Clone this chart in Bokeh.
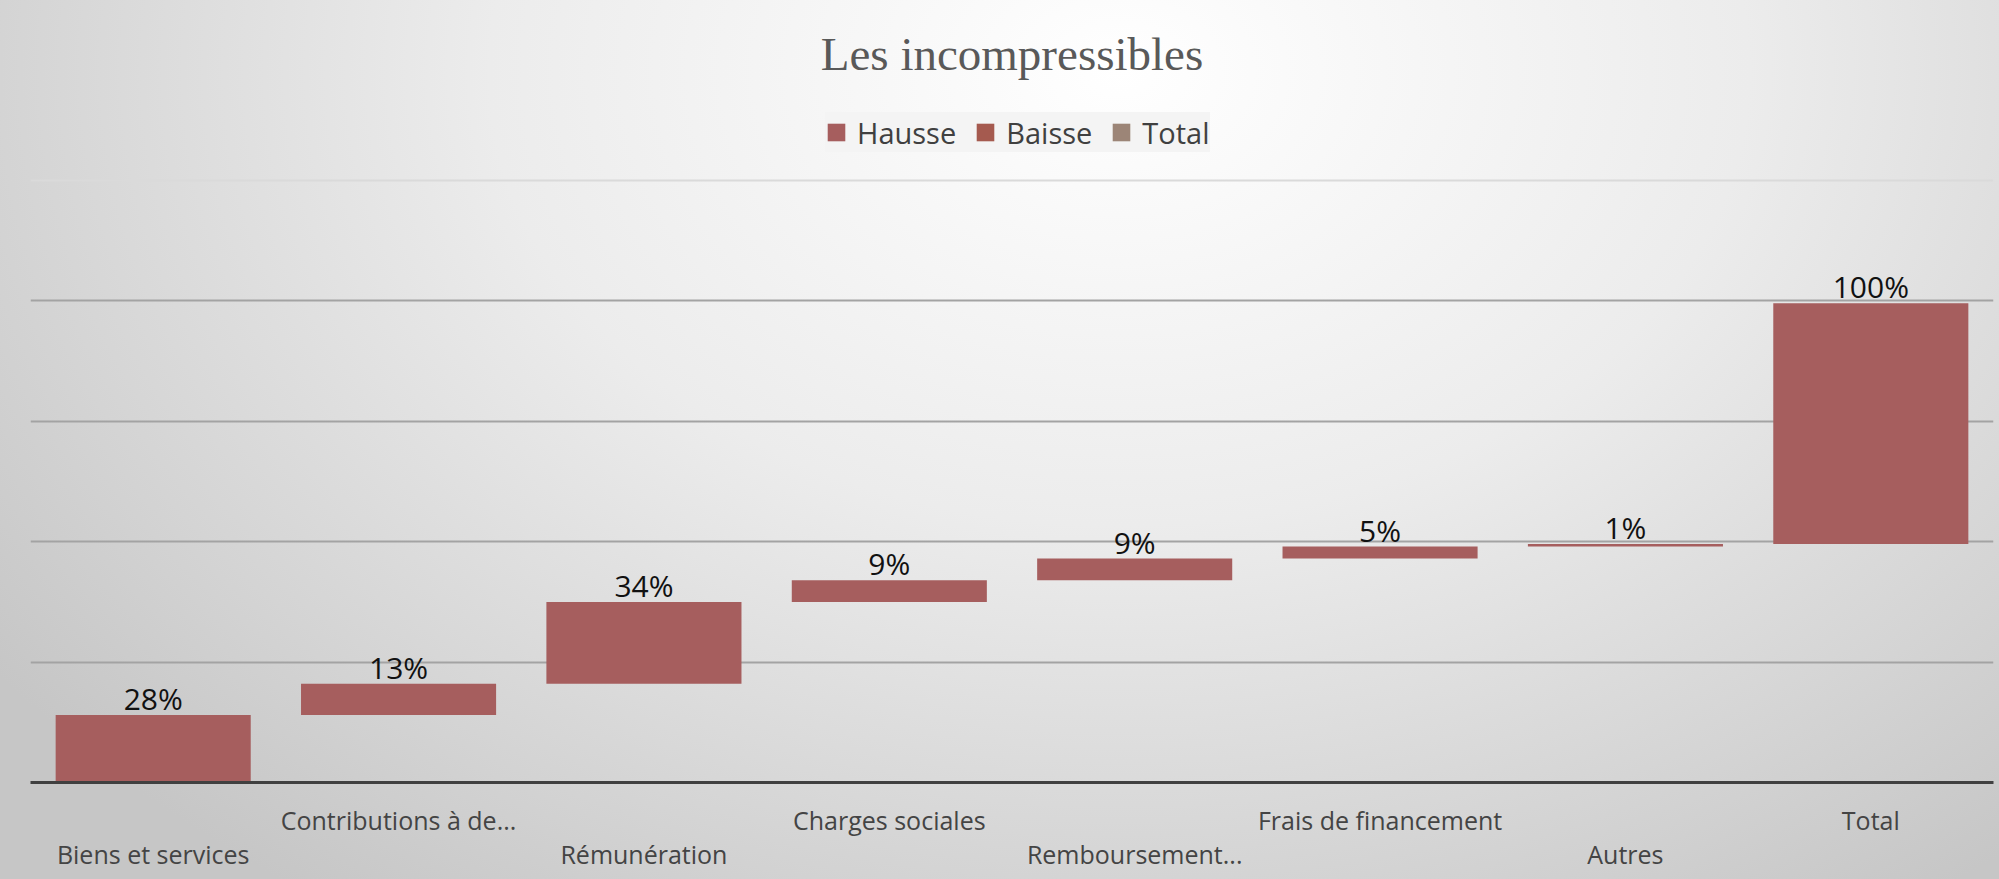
import numpy as np
from bokeh.plotting import figure
from bokeh.models import (ColumnDataSource, Range1d, FixedTicker, Grid,
                          Legend, LegendItem, Label)
from bokeh.core.properties import value
from bokeh.embed import file_html
from bokeh.resources import INLINE

# ---------------- data ----------------
title_text = "Les incompressibles"
categories = ["Biens et services", "Contributions à de...", "Rémunération", "Charges sociales",
              "Remboursement...", "Frais de financement", "Autres", "Total"]
hausse = [28, 13, 34, 9, 9, 5, 1, 100]          # all points are increases (Total not set as total)
baisse = [np.nan] * 8                            # no decreases
total = [np.nan] * 8                             # no total points
series_names = ["Hausse", "Baisse", "Total"]
series_colors = ["#a65e5e", "#a55a4f", "#9c8577"]
grid_ticks = [50, 100, 150, 200]
top_tick = [250]

label_texts = [f"{v}%" for v in hausse]
bottoms = np.concatenate([[0], np.cumsum(hausse[:-1])])
tops = bottoms + np.array(hausse)

# staggered axis labels (even categories on the second row)
factors = [("\n" + c) if i % 2 == 0 else c for i, c in enumerate(categories)]

src = ColumnDataSource(dict(cat=factors, bottom=bottoms, top=tops, label=label_texts))
src_b = ColumnDataSource(dict(cat=factors, bottom=bottoms, top=np.array(baisse)))
src_t = ColumnDataSource(dict(cat=factors, bottom=bottoms, top=np.array(total)))

# ---------------- layout ----------------
W, H = 1999, 879
frame_bottom_px = 782
px_per_unit = 602 / 250.0
y_top = frame_bottom_px / px_per_unit

p = figure(x_range=factors, y_range=Range1d(0, y_top), width=W, height=H,
           output_backend="svg", toolbar_location=None, y_axis_location=None,
           min_border_left=30, min_border_right=6, min_border_top=0,
           min_border_bottom=H - frame_bottom_px)
p.title.visible = False
p.outline_line_color = None
p.background_fill_alpha = 0
p.border_fill_alpha = 0
p.styles = {"background": "radial-gradient(ellipse 70% 115% at 56% 8%, #ffffff 0%, #ececec 45%, #d4d4d4 80%, #c6c6c6 100%)"}
p.xgrid.visible = False

for g in p.ygrid:
    g.ticker = FixedTicker(ticks=grid_ticks)
    g.grid_line_color = "#a3a3a3"
    g.grid_line_width = 2
if len(p.ygrid) == 0:
    p.add_layout(Grid(dimension=1, ticker=FixedTicker(ticks=grid_ticks),
                      grid_line_color="#a3a3a3", grid_line_width=2))
p.add_layout(Grid(dimension=1, ticker=FixedTicker(ticks=top_tick),
                  grid_line_color="#dadada", grid_line_width=2))

# bars
r_h = p.vbar(x="cat", bottom="bottom", top="top", width=0.795, source=src,
             fill_color=series_colors[0], line_color=None)
r_b = p.vbar(x="cat", bottom="bottom", top="top", width=0.795, source=src_b,
             fill_color=series_colors[1], line_color=None)
r_t = p.vbar(x="cat", bottom="bottom", top="top", width=0.795, source=src_t,
             fill_color=series_colors[2], line_color=None)

# data labels
p.text(x="cat", y="top", text="label", source=src, text_align="center", text_baseline="bottom",
       y_offset=4, text_font=value("Open Sans"), text_font_size="30px", text_color="#111111")

# x axis
ax = p.xaxis[0]
ax.axis_line_color = "#404040"
ax.axis_line_width = 3
ax.major_tick_line_color = None
ax.minor_tick_line_color = None
ax.major_tick_out = 0
ax.major_tick_in = 0
ax.major_label_standoff = 20
ax.major_label_text_font = "Open Sans"
ax.major_label_text_font_size = "25px"
ax.major_label_text_line_height = 1.0
ax.major_label_text_color = "#444444"

# title
title_y = (frame_bottom_px - 53.5) / px_per_unit
p.add_layout(Label(x=4, y=title_y, text=title_text, text_align="center", text_baseline="middle",
                   text_font="Liberation Serif", text_font_size="47px", text_color="#595959"))

# legend
legend = Legend(items=[LegendItem(label=series_names[0], renderers=[r_h]),
                       LegendItem(label=series_names[1], renderers=[r_b]),
                       LegendItem(label=series_names[2], renderers=[r_t])],
                orientation="horizontal", location=(795, 630),
                glyph_width=22, glyph_height=22, label_height=40, label_standoff=10,
                spacing=18, padding=16,
                label_text_font="Open Sans", label_text_font_size="29px", label_text_color="#404040",
                background_fill_color="#f4f4f4", background_fill_alpha=1, border_line_color=None,
                margin=0)
p.add_layout(legend)

open("out.html", "w").write(file_html(p, INLINE))
